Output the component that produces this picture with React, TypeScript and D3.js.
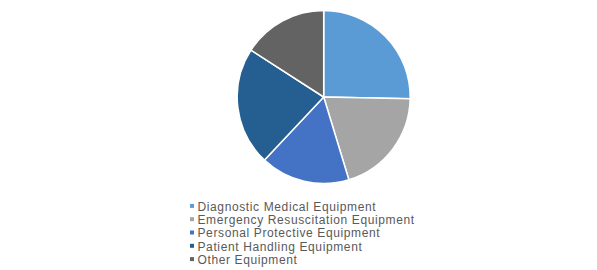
import React from "react";
import * as d3 from "d3";

const categories = [
  "Diagnostic Medical Equipment",
  "Emergency Resuscitation Equipment",
  "Personal Protective Equipment",
  "Patient Handling Equipment",
  "Other Equipment",
];
const values = [25.3, 20.0, 16.7, 22.1, 15.9];
const colors = ["#5B9BD5", "#A5A5A5", "#4472C4", "#255E91", "#636363"];

export default function App() {
  const width = 597;
  const height = 270;
  const cx = 323.7;
  const cy = 97;
  const r = 86.5;
  const pie = d3.pie<number>().sort(null).value((d) => d);
  const arcs = pie(values);
  const arc = d3.arc<d3.PieArcDatum<number>>().innerRadius(0).outerRadius(r);
  const legendY = d3.scaleLinear().domain([0, 1]).range([210.7, 224]);
  return (
    <svg
      width={width}
      height={height}
      style={{ position: "absolute", left: 0, top: 0 }}
    >
      <rect width={width} height={height} fill="#fff" />
      <g transform={`translate(${cx},${cy})`}>
        {arcs.map((a, i) => (
          <path
            key={i}
            d={arc(a) || ""}
            fill={colors[i]}
            stroke="#fff"
            strokeWidth={1.5}
            strokeLinejoin="round"
          />
        ))}
      </g>
      <g>
        {categories.map((c, i) => (
          <g key={c}>
            <rect
              x={190}
              y={legendY(i) - 6.8}
              width={4}
              height={4}
              fill={colors[i]}
            />
            <text
              x={197.5}
              y={legendY(i)}
              fontFamily="'Liberation Sans', Arial, sans-serif"
              fontSize={12}
              letterSpacing={0.62}
              fill="#595959"
            >
              {c}
            </text>
          </g>
        ))}
      </g>
    </svg>
  );
}
